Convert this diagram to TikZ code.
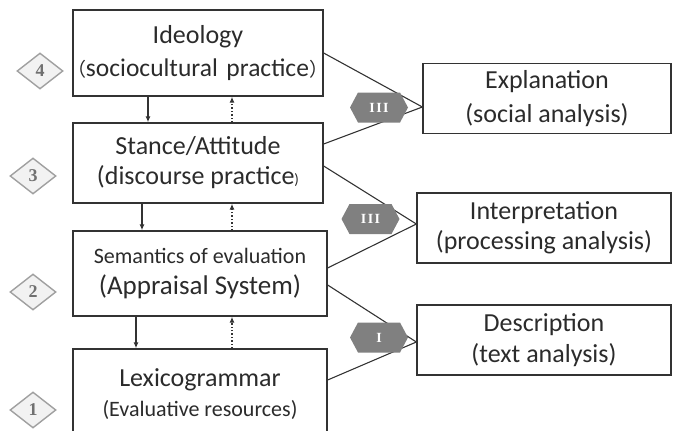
\documentclass[tikz,border=0pt]{standalone}
\usepackage{fontspec}
\setmainfont{Carlito}
\newfontfamily\cjk{Noto Sans CJK SC}
\newfontfamily\numserif{Liberation Serif}
\usetikzlibrary{arrows.meta,shapes.geometric}
\definecolor{txt}{HTML}{2B2B2B}
\definecolor{brd}{HTML}{333333}
\definecolor{hexg}{HTML}{808080}
\definecolor{dfill}{HTML}{F2F2F2}
\definecolor{dbrd}{HTML}{A0A0A0}
\definecolor{dnum}{HTML}{707070}
\tikzset{
  lbox/.style={draw=brd, line width=1.3pt, text=txt, align=center, inner sep=0pt,
    font=\fontsize{26}{31}\selectfont},
  rbox/.style={draw=brd, line width=1.3pt, text=txt, align=center, inner sep=0pt,
    font=\fontsize{26}{31}\selectfont, minimum height=70pt},
  dia/.style={diamond, draw=dbrd, fill=dfill, line width=1.4pt, minimum width=46pt,
    minimum height=36pt, inner sep=0pt, aspect=1.3, text=dnum,
    font=\numserif\bfseries\fontsize{18}{18}\selectfont},
  hexa/.style={minimum width=58pt, minimum height=30pt, inner sep=0pt, text=white,
    font=\numserif\bfseries\fontsize{14}{14}\selectfont,
    path picture={\fill[hexg]
      (path picture bounding box.west) --
      ([xshift=8pt]path picture bounding box.north west) --
      ([xshift=-8pt]path picture bounding box.north east) --
      (path picture bounding box.east) --
      ([xshift=-8pt]path picture bounding box.south east) --
      ([xshift=8pt]path picture bounding box.south west) -- cycle;}},
  conn/.style={draw=brd, line width=1.1pt},
  down/.style={draw=brd, line width=1.4pt, -{Latex[length=6pt,width=5pt]}},
  up/.style={draw=brd, line width=1.4pt, dotted, -{Latex[length=6pt,width=5pt]}}
}
\begin{document}
\begin{tikzpicture}[x=1pt,y=-1pt]
\useasboundingbox (0,0) rectangle (673,431);
\begin{scope}
\clip (0,0) rectangle (673,431);
% left boxes
\node[lbox, minimum width=250pt, minimum height=86pt, text width=250pt] (ideo) at (198,53)
  {Ideology\\[2pt]{\fontsize{25.5}{25.5}\selectfont\hspace*{-12pt}{\cjk\fontsize{19}{19}\selectfont （}\hspace{-1pt}sociocultural practice{\cjk\fontsize{19}{19}\selectfont ）}\hspace*{-12pt}}};
\node[lbox, minimum width=250pt, minimum height=80pt] (stance) at (198,163)
  {Stance/Attitude\\[-1pt](discourse practice{\fontsize{15}{15}\selectfont )}};
\node[lbox, minimum width=254pt, minimum height=85pt, font=\fontsize{27}{31}\selectfont] (sem) at (200,273.5)
  {{\fontsize{22}{22}\selectfont Semantics of evaluation}\\[0pt](Appraisal System)};
\node[lbox, minimum width=254pt, minimum height=91pt] (lex) at (200,394.5)
  {Lexicogrammar\\[-1pt]{\fontsize{22}{22}\selectfont (Evaluative resources)}};
% right boxes
\node[rbox, minimum width=248pt] (expl) at (547,98.5)
  {Explanation\\[3pt](social analysis)};
\node[rbox, minimum width=254pt] (interp) at (544,228)
  {Interpretation\\[-1pt](processing analysis)};
\node[rbox, minimum width=254pt] (desc) at (544,340)
  {Description\\[0pt](text analysis)};
% target coordinates
\coordinate (te) at ([yshift=-8.5pt]expl.west);
\coordinate (ti) at ([yshift=4pt]interp.west);
\coordinate (td) at ([yshift=-2pt]desc.west);
% connectors
\draw[conn] (ideo.east) -- (te);
\draw[conn] ([yshift=19pt]stance.east) -- (te);
\draw[conn] ([yshift=-3pt]stance.east) -- (ti);
\draw[conn] ([yshift=5.5pt]sem.east) -- (ti);
\draw[conn] ([yshift=-11.5pt]sem.east) -- (td);
\draw[conn] ([yshift=14.5pt]lex.east) -- (td);
% hexagons
\node[hexa] (h1) at (379,107.5) {I\kern1.5pt I\kern1.5pt I};
\node[hexa] (h2) at (370.5,219) {I\kern1.5pt I\kern1.5pt I};
\node[hexa] (h3) at (379,337.5) {I};
% vertical arrows
\draw[down] ([xshift=-50pt]ideo.south) -- ([xshift=-50pt]stance.north);
\draw[up] ([xshift=34pt]stance.north) -- ([xshift=34pt]ideo.south);
\draw[down] ([xshift=-56pt]stance.south) -- ([xshift=-58pt]sem.north);
\draw[up] ([xshift=32pt]sem.north) -- ([xshift=34pt]stance.south);
\draw[down] ([xshift=-64pt]sem.south) -- ([xshift=-64pt]lex.north);
\draw[up] ([xshift=32pt]lex.north) -- ([xshift=32pt]sem.south);
% diamonds
\node[dia] (d4) at (40,71) {4};
\node[dia] (d3) at (33,176) {3};
\node[dia] (d2) at (33,292) {2};
\node[dia] (d1) at (33,410) {1};
\end{scope}
\end{tikzpicture}
\end{document}
